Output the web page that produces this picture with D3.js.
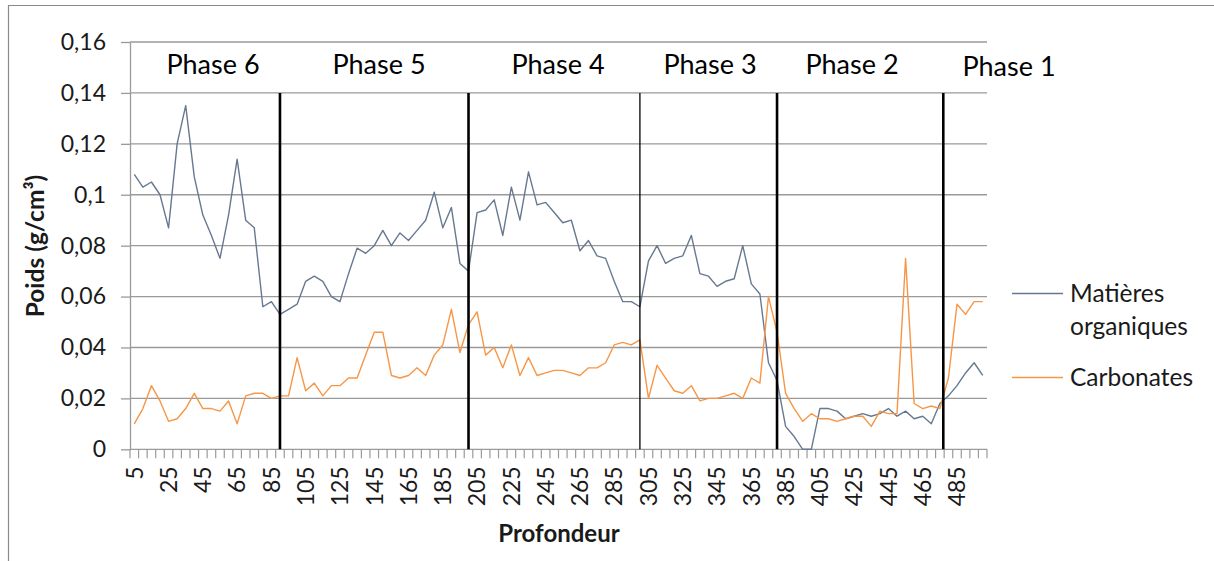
<!DOCTYPE html>
<html>
<head>
<meta charset="utf-8">
<script src="https://cdn.jsdelivr.net/npm/d3@7"></script>
<style>
  html, body { margin: 0; padding: 0; background: #fff; }
  svg { display: block; font-family: Lato, "Open Sans", sans-serif; }
</style>
</head>
<body>
<svg id="chart" width="1214" height="561"></svg>
<script>
// Depth of each sample (cm)
const depths = [
  5, 10, 15, 20, 25, 30, 35, 40, 45, 50, 55, 60, 65, 70, 75, 80, 85, 90, 95, 100,
  105, 110, 115, 120, 125, 130, 135, 140, 145, 150, 155, 160, 165, 170, 175, 180, 185, 190, 195, 200,
  205, 210, 215, 220, 225, 230, 235, 240, 245, 250, 255, 260, 265, 270, 275, 280, 285, 290, 295, 300,
  305, 310, 315, 320, 325, 330, 335, 340, 345, 350, 355, 360, 365, 370, 375, 380, 385, 390, 395, 400,
  405, 410, 415, 420, 425, 430, 435, 440, 445, 450, 455, 460, 465, 470, 475, 480, 485, 490, 495, 500
];

// Organic matter weight (g/cm3)
const matieresOrganiques = [
  0.108, 0.103, 0.105, 0.100, 0.087, 0.120, 0.135, 0.107, 0.092, 0.084,
  0.075, 0.092, 0.114, 0.090, 0.087, 0.056, 0.058, 0.053, 0.055, 0.057,
  0.066, 0.068, 0.066, 0.060, 0.058, 0.069, 0.079, 0.077, 0.080, 0.086,
  0.080, 0.085, 0.082, 0.086, 0.090, 0.101, 0.087, 0.095, 0.073, 0.070,
  0.093, 0.094, 0.098, 0.084, 0.103, 0.090, 0.109, 0.096, 0.097, 0.093,
  0.089, 0.090, 0.078, 0.082, 0.076, 0.075, 0.066, 0.058, 0.058, 0.056,
  0.074, 0.080, 0.073, 0.075, 0.076, 0.084, 0.069, 0.068, 0.064, 0.066,
  0.067, 0.080, 0.065, 0.061, 0.034, 0.027, 0.009, 0.005, 0.000, 0.000,
  0.016, 0.016, 0.015, 0.012, 0.013, 0.014, 0.013, 0.014, 0.016, 0.013,
  0.015, 0.012, 0.013, 0.010, 0.018, 0.021, 0.025, 0.030, 0.034, 0.029
];

// Carbonate weight (g/cm3)
const carbonates = [
  0.010, 0.016, 0.025, 0.019, 0.011, 0.012, 0.016, 0.022, 0.016, 0.016,
  0.015, 0.019, 0.010, 0.021, 0.022, 0.022, 0.020, 0.021, 0.021, 0.036,
  0.023, 0.026, 0.021, 0.025, 0.025, 0.028, 0.028, 0.037, 0.046, 0.046,
  0.029, 0.028, 0.029, 0.032, 0.029, 0.037, 0.041, 0.055, 0.038, 0.049,
  0.054, 0.037, 0.040, 0.032, 0.041, 0.029, 0.036, 0.029, 0.030, 0.031,
  0.031, 0.030, 0.029, 0.032, 0.032, 0.034, 0.041, 0.042, 0.041, 0.043,
  0.020, 0.033, 0.028, 0.023, 0.022, 0.025, 0.019, 0.020, 0.020, 0.021,
  0.022, 0.020, 0.028, 0.026, 0.060, 0.046, 0.022, 0.016, 0.011, 0.014,
  0.012, 0.012, 0.011, 0.012, 0.013, 0.013, 0.009, 0.015, 0.014, 0.014,
  0.075, 0.018, 0.016, 0.017, 0.016, 0.028, 0.057, 0.053, 0.058, 0.058
];

const seriesNames = ["Matières organiques", "Carbonates"];

const yTickValues = [0, 0.02, 0.04, 0.06, 0.08, 0.10, 0.12, 0.14, 0.16];
const yTickLabels = ["0", "0,02", "0,04", "0,06", "0,08", "0,1", "0,12", "0,14", "0,16"];

// Phases, from top of the core (shallow) to the bottom
const phaseNames = ["Phase 6", "Phase 5", "Phase 4", "Phase 3", "Phase 2", "Phase 1"];
// Depths at which one phase ends and the next begins
const phaseBoundaries = [90, 200, 300, 380, 477];

// ---------------------------------------------------------------- layout
const svg = d3.select("#chart");
const W = 1214, H = 561;
const plot = { left: 130, right: 987, top: 42, bottom: 449.3 };
const gridColor = "#9a9a9a";
const colors = { mo: "#677891", carb: "#f79646" };

const x = d3.scaleBand().domain(depths).range([plot.left, plot.right]).padding(0);
const xc = d => x(d) + x.bandwidth() / 2;
const xLin = d3.scaleLinear()
  .domain([depths[0], depths[depths.length - 1]])
  .range([xc(depths[0]), xc(depths[depths.length - 1])]);
const y = d3.scaleLinear().domain([0, 0.16]).range([plot.bottom, plot.top]);

// outer frame of the chart area
svg.append("path")
  .attr("d", `M8.5,${H} V5.5 H${W}`)
  .attr("fill", "none")
  .attr("stroke", "#8a8a8a")
  .attr("stroke-width", 1.2);

// horizontal gridlines
svg.append("g").selectAll("line")
  .data(yTickValues)
  .join("line")
  .attr("x1", plot.left).attr("x2", plot.right)
  .attr("y1", d => y(d)).attr("y2", d => y(d))
  .attr("stroke", gridColor)
  .attr("stroke-width", 1.3);

// y axis
const yAxis = svg.append("g")
  .attr("transform", `translate(${plot.left},0)`)
  .call(d3.axisLeft(y)
    .tickValues(yTickValues)
    .tickFormat((d, i) => yTickLabels[i])
    .tickSize(9)
    .tickPadding(15)
    .tickSizeOuter(0));
yAxis.select(".domain").attr("stroke", gridColor).attr("stroke-width", 1.3);
yAxis.selectAll(".tick line").attr("stroke", gridColor).attr("stroke-width", 1.3);
yAxis.selectAll(".tick text")
  .attr("fill", "#1a1a1a")
  .style("font-size", "23px")
  .style("font-family", "Lato, sans-serif");

// x axis: tick marks on category boundaries
const xBoundaries = depths.map(d => x(d)).concat([plot.right]);
svg.append("g").selectAll("line")
  .data(xBoundaries)
  .join("line")
  .attr("x1", d => d).attr("x2", d => d)
  .attr("y1", y(0)).attr("y2", y(0) + 9)
  .attr("stroke", gridColor)
  .attr("stroke-width", 1.2);

// x axis: every fourth depth is labelled, rotated
const xLabelled = depths.filter((d, i) => i % 4 === 0);
const xAxis = svg.append("g")
  .attr("transform", `translate(0,${y(0)})`)
  .call(d3.axisBottom(x).tickValues(xLabelled).tickSize(0).tickPadding(0));
xAxis.select(".domain").remove();
xAxis.selectAll(".tick text")
  .attr("transform", "rotate(-90)")
  .attr("x", -17)
  .attr("y", 0)
  .attr("dy", "0.36em")
  .attr("text-anchor", "end")
  .attr("fill", "#1a1a1a")
  .style("font-size", "23px")
  .style("font-family", "Lato, sans-serif");

// data lines
const line = d3.line()
  .x((v, i) => xc(depths[i]))
  .y(v => y(v));

svg.append("path")
  .datum(matieresOrganiques)
  .attr("d", line)
  .attr("fill", "none")
  .attr("stroke", colors.mo)
  .attr("stroke-width", 1.4)
  .attr("stroke-linejoin", "round");

svg.append("path")
  .datum(carbonates)
  .attr("d", line)
  .attr("fill", "none")
  .attr("stroke", colors.carb)
  .attr("stroke-width", 1.4)
  .attr("stroke-linejoin", "round");

// phase separators
svg.append("g").selectAll("line")
  .data(phaseBoundaries)
  .join("line")
  .attr("x1", d => xLin(d)).attr("x2", d => xLin(d))
  .attr("y1", y(0.14)).attr("y2", y(0))
  .attr("stroke", "#000")
  .attr("stroke-width", d => d === 300 ? 1.3 : 2.6);

// phase names
const phaseLabelPos = [
  { x: 213, y: 74 }, { x: 379, y: 74 }, { x: 558, y: 74 },
  { x: 710, y: 74 }, { x: 852, y: 74 }, { x: 1009, y: 76 }
];
svg.append("g").selectAll("text")
  .data(phaseNames)
  .join("text")
  .attr("x", (d, i) => phaseLabelPos[i].x)
  .attr("y", (d, i) => phaseLabelPos[i].y)
  .attr("text-anchor", "middle")
  .attr("fill", "#000")
  .style("font-size", "27px")
  .text(d => d);

// axis titles
svg.append("text")
  .attr("transform", `translate(44,246) rotate(-90)`)
  .attr("text-anchor", "middle")
  .attr("fill", "#1a1a1a")
  .style("font-size", "24.5px")
  .style("font-weight", "bold")
  .text("Poids (g/cm³)");

svg.append("text")
  .attr("x", 559)
  .attr("y", 542)
  .attr("text-anchor", "middle")
  .attr("fill", "#1a1a1a")
  .style("font-size", "24px")
  .style("font-weight", "bold")
  .text("Profondeur");

// legend
const legend = svg.append("g");
const legendItems = [
  { lines: ["Matières", "organiques"], color: colors.mo, y: 293.5 },
  { lines: ["Carbonates"], color: colors.carb, y: 377.5 }
];
legendItems.forEach((item, k) => {
  legend.append("line")
    .attr("x1", 1012).attr("x2", 1063)
    .attr("y1", item.y).attr("y2", item.y)
    .attr("stroke", item.color)
    .attr("stroke-width", 1.4);
  const t = legend.append("text")
    .attr("x", 1070)
    .attr("y", item.y)
    .attr("fill", "#1a1a1a")
    .style("font-size", "24.5px");
  item.lines.forEach((s, j) => {
    t.append("tspan")
      .attr("x", 1070)
      .attr("dy", j === 0 ? "0.36em" : "1.33em")
      .text(s);
  });
});
</script>
</body>
</html>
